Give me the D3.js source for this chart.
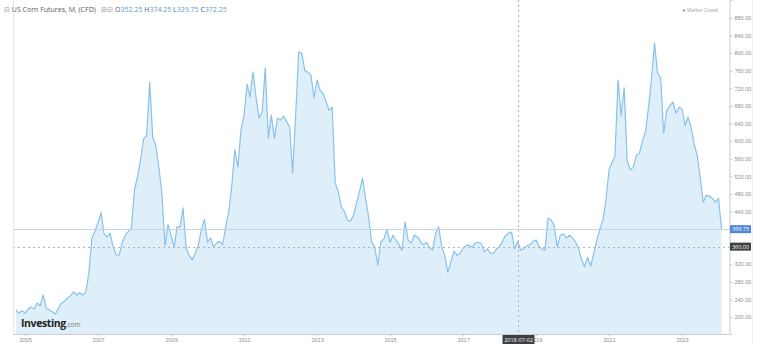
<!DOCTYPE html>
<html>
<head>
<meta charset="utf-8">
<script src="https://cdn.jsdelivr.net/npm/d3@7/dist/d3.min.js"></script>
<style>
  body { margin: 0; background: #fff; }
  svg { display: block; font-family: "Open Sans", "Liberation Sans", Arial, sans-serif; }
</style>
</head>
<body>
<svg id="chart" width="768" height="362"></svg>
<script>
// chart data (monthly closes, cents per bushel)
const title = "US Corn Futures, M, (CFD)";
const ohlcKeys = ["O", "H", "L", "C"];
const ohlcValues = ["352.25", "374.25", "329.75", "372.25"];
const startMonth = "2004-10";
const closes = [
  216, 209, 214,                                              // 2004 Oct-Dec
  209, 218, 223, 218, 232, 225, 250, 220, 216, 212, 207, 220, // 2005
  232, 236, 243, 248, 257, 250, 255, 250, 257, 300, 380, 395, // 2006
  415, 437, 390, 382, 391, 360, 341, 341, 370, 386, 395, 402, // 2007
  490, 520, 557, 605, 612, 734, 609, 590, 540, 482, 362, 410, // 2008
  385, 359, 405, 405, 448, 357, 340, 330, 345, 364, 400, 422, // 2009
  370, 380, 360, 368, 372, 364, 405, 440, 500, 580, 541, 625, // 2010
  659, 730, 700, 757, 700, 652, 666, 766, 607, 659, 607, 652, // 2011
  648, 657, 645, 632, 527, 660, 803, 800, 760, 757, 750, 698, // 2012
  739, 715, 709, 690, 670, 677, 505, 485, 450, 440, 420, 418, // 2013
  432, 460, 485, 516, 470, 427, 370, 359, 318, 370, 378, 398, // 2014
  370, 386, 375, 365, 352, 416, 375, 368, 386, 382, 372, 364, // 2015
  370, 358, 352, 390, 405, 360, 340, 302, 325, 350, 340, 345, // 2016
  357, 362, 364, 359, 368, 370, 368, 348, 355, 345, 345, 355, // 2017
  360, 373, 385, 391, 393, 355, 372, 352, 356, 362, 364, 372, // 2018
  375, 360, 355, 352, 425, 421, 409, 359, 386, 389, 380, 386, // 2019
  380, 370, 357, 330, 314, 336, 316, 345, 375, 400, 421, 466, // 2020
  535, 552, 566, 739, 659, 721, 557, 534, 541, 568, 573, 600, // 2021
  621, 680, 740, 823, 755, 744, 618, 670, 680, 689, 664, 677, // 2022
  673, 635, 655, 632, 595, 568, 518, 461, 477, 475, 470, 461, // 2023
  470, 400                                                    // 2024 Jan-Feb
];
const yTicks = [200, 240, 280, 320, 360, 400, 440, 480, 520, 560, 600, 640, 680, 720, 760, 800, 840, 880];
const xTickYears = [2005, 2007, 2009, 2011, 2013, 2015, 2017, 2019, 2021, 2023];
const lastPrice = 399.75;
const crossValue = 360;
const crossDate = "2018-07-02";

const svg = d3.select("#chart");
const plot = { left: 13, right: 729, top: 0, bottom: 334 };

const lineColor = "#88c2ec",
  fillColor = "#dfeffa",
  axisColor = "#c9ccd0",
  labelColor = "#8a8f96",
  blue = "#4f86d9";

const parseMonth = d3.timeParse("%Y-%m");
const first = parseMonth(startMonth);
const data = closes.map((v, i) => ({ date: d3.timeMonth.offset(first, i), value: v }));

const x = d3.scaleTime()
  .domain([new Date(2004, 8, 2), new Date(2024, 3, 15)])
  .range([plot.left, plot.right]);
const y = d3.scaleLinear()
  .domain([161.3, 921])
  .range([plot.bottom, plot.top]);

// area + line
const area = d3.area()
  .x(d => x(d.date))
  .y0(plot.bottom)
  .y1(d => y(d.value));
const line = d3.line()
  .x(d => x(d.date))
  .y(d => y(d.value));

svg.append("path").datum(data).attr("d", area).attr("fill", fillColor);
svg.append("path").datum(data).attr("d", line)
  .attr("fill", "none").attr("stroke", lineColor).attr("stroke-width", 1.2)
  .attr("stroke-linejoin", "round");

// last price line
svg.append("line")
  .attr("x1", plot.left).attr("x2", plot.right)
  .attr("y1", Math.round(y(lastPrice)) + 0.5).attr("y2", Math.round(y(lastPrice)) + 0.5)
  .attr("stroke", "#c3d3e2").attr("stroke-width", 1);

// crosshair
svg.append("line")
  .attr("x1", plot.left).attr("x2", plot.right)
  .attr("y1", Math.round(y(crossValue)) + 0.5).attr("y2", Math.round(y(crossValue)) + 0.5)
  .attr("stroke", "#b0b4b8").attr("stroke-dasharray", "2,3");
const crossX = Math.round(x(d3.timeParse("%Y-%m-%d")(crossDate))) + 0.5;
svg.append("line")
  .attr("x1", crossX).attr("x2", crossX)
  .attr("y1", plot.top).attr("y2", plot.bottom)
  .attr("stroke", "#b0b4b8").attr("stroke-dasharray", "2,3");

// frame
svg.append("line").attr("x1", plot.left + 0.5).attr("x2", plot.left + 0.5)
  .attr("y1", 0).attr("y2", plot.bottom).attr("stroke", "#e4e6e8");
svg.append("line").attr("x1", 752.5).attr("x2", 752.5)
  .attr("y1", 0).attr("y2", 344).attr("stroke", "#eceef0");

// right axis (labels under the price tags are hidden, as in the original)
const hidden = [lastPrice, crossValue].map(v => Math.round(v / 40) * 40);
const yAxis = svg.append("g")
  .attr("transform", "translate(" + (plot.right + 0.5) + ",0)")
  .call(d3.axisRight(y).tickValues(yTicks).tickSize(3).tickPadding(2)
    .tickFormat(d => hidden.includes(d) ? "" : d3.format(".2f")(d)));
yAxis.select(".domain").attr("stroke", axisColor);
yAxis.selectAll(".tick line").attr("stroke", axisColor);
yAxis.selectAll("text").attr("fill", labelColor).style("font-size", "5.5px");

// bottom axis
const xAxis = svg.append("g")
  .attr("transform", "translate(0," + (plot.bottom + 0.5) + ")")
  .call(d3.axisBottom(x).tickValues(xTickYears.map(yr => new Date(yr, 0, 1)))
    .tickSize(2).tickPadding(2).tickFormat(d3.timeFormat("%Y")));
xAxis.select(".domain").attr("stroke", axisColor).attr("d", "M" + plot.left + ",0H" + plot.right);
xAxis.selectAll(".tick line").attr("stroke", axisColor);
xAxis.selectAll("text").attr("fill", labelColor).style("font-size", "5.5px");

// price labels on the axis
function priceTag(v, fill, txt) {
  const g = svg.append("g").attr("transform", "translate(730," + y(v) + ")");
  g.append("rect").attr("x", 0).attr("y", -4).attr("width", 21).attr("height", 8).attr("fill", fill);
  g.append("text").attr("x", 10.5).attr("y", 2).attr("text-anchor", "middle")
    .attr("fill", "#fff").style("font-size", "5.5px").text(txt);
}
priceTag(lastPrice, blue, d3.format(".2f")(lastPrice));
priceTag(crossValue, "#3d3f42", d3.format(".2f")(crossValue));

// date tag on crosshair
const dg = svg.append("g").attr("transform", "translate(" + crossX + "," + (plot.bottom + 1) + ")");
dg.append("rect").attr("x", -16).attr("y", 0).attr("width", 32).attr("height", 9).attr("fill", "#3d3f42");
dg.append("text").attr("y", 6.5).attr("text-anchor", "middle")
  .attr("fill", "#fff").style("font-size", "5.5px").text(crossDate);

// header
const header = svg.append("text").attr("x", 4).attr("y", 12).style("font-size", "7px");
header.append("tspan").attr("fill", "#9aa0a6").text("\u229f ");
header.append("tspan").attr("fill", "#555a60").text(title);
header.append("tspan").attr("fill", "#9aa0a6").text(" \u00b7 \u229e\u229f ");
ohlcKeys.forEach((k, i) => {
  header.append("tspan").attr("fill", "#555a60").text((i ? "  " : "") + k);
  header.append("tspan").attr("fill", "#5a9be0").text(ohlcValues[i]);
});

const mc = svg.append("g").attr("transform", "translate(684,10.5)");
mc.append("circle").attr("r", 1.2).attr("fill", "#9aa0a6");
mc.append("text").attr("x", 3).attr("y", 1.6).attr("fill", "#9aa0a6")
  .style("font-size", "4.6px").text("Market Closed");

// watermark
const logo = svg.append("text").attr("x", 21).attr("y", 327);
logo.append("tspan").attr("fill", "#222").style("font-size", "10.5px")
  .style("font-weight", "bold").style("letter-spacing", "-0.4px").text("Investing");
logo.append("tspan").attr("fill", "#777").style("font-size", "6.5px").text(".com");
</script>
</body>
</html>
